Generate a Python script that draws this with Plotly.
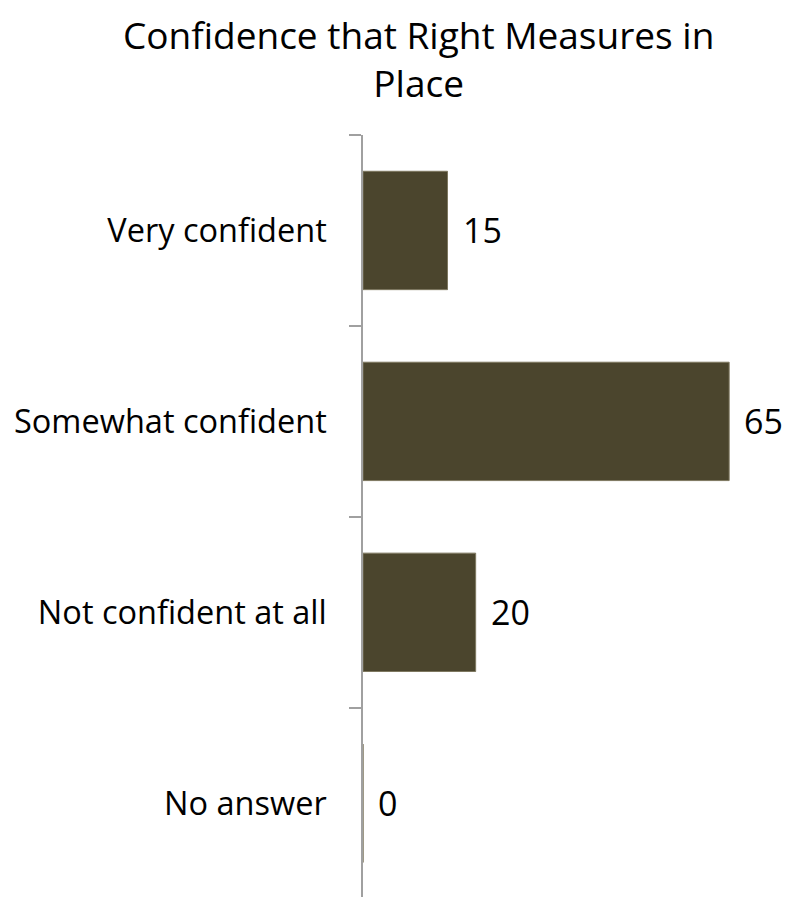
import plotly.graph_objects as go

categories = ["Very confident", "Somewhat confident", "Not confident at all", "No answer"]
values = [15, 65, 20, 0]
value_labels = ["15", "65", "20", "0"]
title_text = "Confidence that Right Measures in<br>Place"

BAR_COLOR = "#4B452D"
FONT = "Open Sans"

fig = go.Figure()
fig.add_trace(go.Bar(
    y=categories,
    x=values,
    orientation="h",
    marker=dict(color=BAR_COLOR, line=dict(color="#7E7860", width=1)),
    width=0.62,
    hoverinfo="skip",
))

for cat, v, lab in zip(categories, values, value_labels):
    fig.add_annotation(
        x=v, y=cat, text=lab, showarrow=False,
        xanchor="left", yanchor="middle", xshift=13,
        font=dict(family=FONT, size=34, color="#000000"),
    )

# chart title as a centred two-line annotation above the plot area
fig.add_annotation(
    text=title_text, xref="paper", yref="paper",
    x=0.13, y=1.1, xanchor="center", yanchor="middle",
    showarrow=False, align="center",
    font=dict(family=FONT, size=37, color="#000000"),
)

fig.update_layout(
    width=782, height=889,
    paper_bgcolor="white", plot_bgcolor="white",
    margin=dict(l=354.5, r=0, t=126.7, b=0),
    showlegend=False,
    font=dict(family=FONT, color="#000000"),
    xaxis=dict(
        visible=False, range=[0, 75.8], showgrid=False, zeroline=False,
    ),
    yaxis=dict(
        type="category",
        categoryorder="array", categoryarray=categories,
        range=[3.491, -0.5],
        showline=True, linecolor="#A0A0A0", linewidth=1.5,
        ticks="outside", ticklen=12, tickcolor="#A0A0A0", tickwidth=1.5,
        tickson="boundaries",
        ticklabelstandoff=28,
        tickfont=dict(family=FONT, size=32.5, color="#000000"),
        showgrid=False, zeroline=False,
    ),
)

fig.write_html("out.html")
